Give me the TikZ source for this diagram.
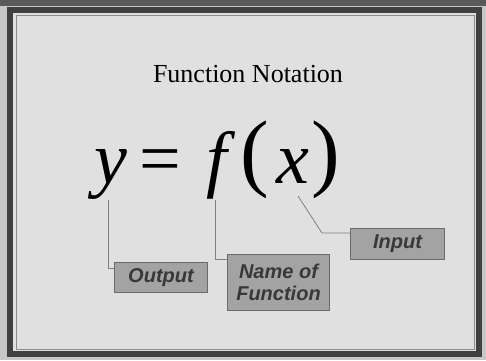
\documentclass[tikz,border=0pt]{standalone}
\usepackage{fontspec}
\setmainfont{Liberation Serif}
\newfontfamily\labelfont{Liberation Sans}
\begin{document}
\begin{tikzpicture}[x=1pt,y=-1pt,
  lbl/.style={draw=black!58, line width=1pt, fill=black!36, text=black!78,
    font=\labelfont\bfseries\itshape\fontsize{20}{22}\selectfont, align=center,
    inner sep=0pt, anchor=north west},
  glyph/.style={anchor=base, inner sep=0pt, font=\fontsize{74}{80}\selectfont},
  paren/.style={anchor=base, inner sep=0pt, font=\fontsize{86}{90}\selectfont},
  conn/.style={draw=black!50, line width=0.8pt}]
\useasboundingbox (0,0) rectangle (486,360);
\fill[black!22] (0,0) rectangle (486,360);
\fill[black!65] (0,0) rectangle (486,6);
\draw[black!75, line width=6pt, fill=black!12] (10,10) rectangle (479,354);
\draw[black!45, line width=1pt] (16,15) rectangle (474,349);
% title
\node (title) at (248,74) {\fontsize{26}{29}\selectfont Function Notation};
% formula parts
\node[glyph] (y) at (111,183) {\itshape y};
\node[glyph] (eq) at (160,183) {=};
\node[glyph] (f) at (217,183) {\itshape f};
\node[paren] (lp) at (255,180) {(};
\node[glyph] (x) at (293,183) {\itshape x};
\node[paren] (rp) at (326,180) {)};
% labels
\node[lbl, minimum width=93pt, minimum height=30pt] (out) at (114,262) {Output};
\node[lbl, minimum width=102pt, minimum height=56pt] (name) at (227,254) {Name of\\Function};
\node[lbl, minimum width=94pt, minimum height=31pt] (inp) at (350,228) {Input};
% connectors
\coordinate (ya) at (108,200);
\coordinate (yb) at (108,268);
\coordinate (fa) at (215,200);
\coordinate (fb) at (215,259);
\coordinate (xa) at (298,196);
\coordinate (xb) at (322,233);
\draw[conn] (ya) -- (yb) -- (out.west |- yb);
\draw[conn] (fa) -- (fb) -- (name.west |- fb);
\draw[conn] (xa) -- (xb) -- (inp.west |- xb);
\end{tikzpicture}
\end{document}
